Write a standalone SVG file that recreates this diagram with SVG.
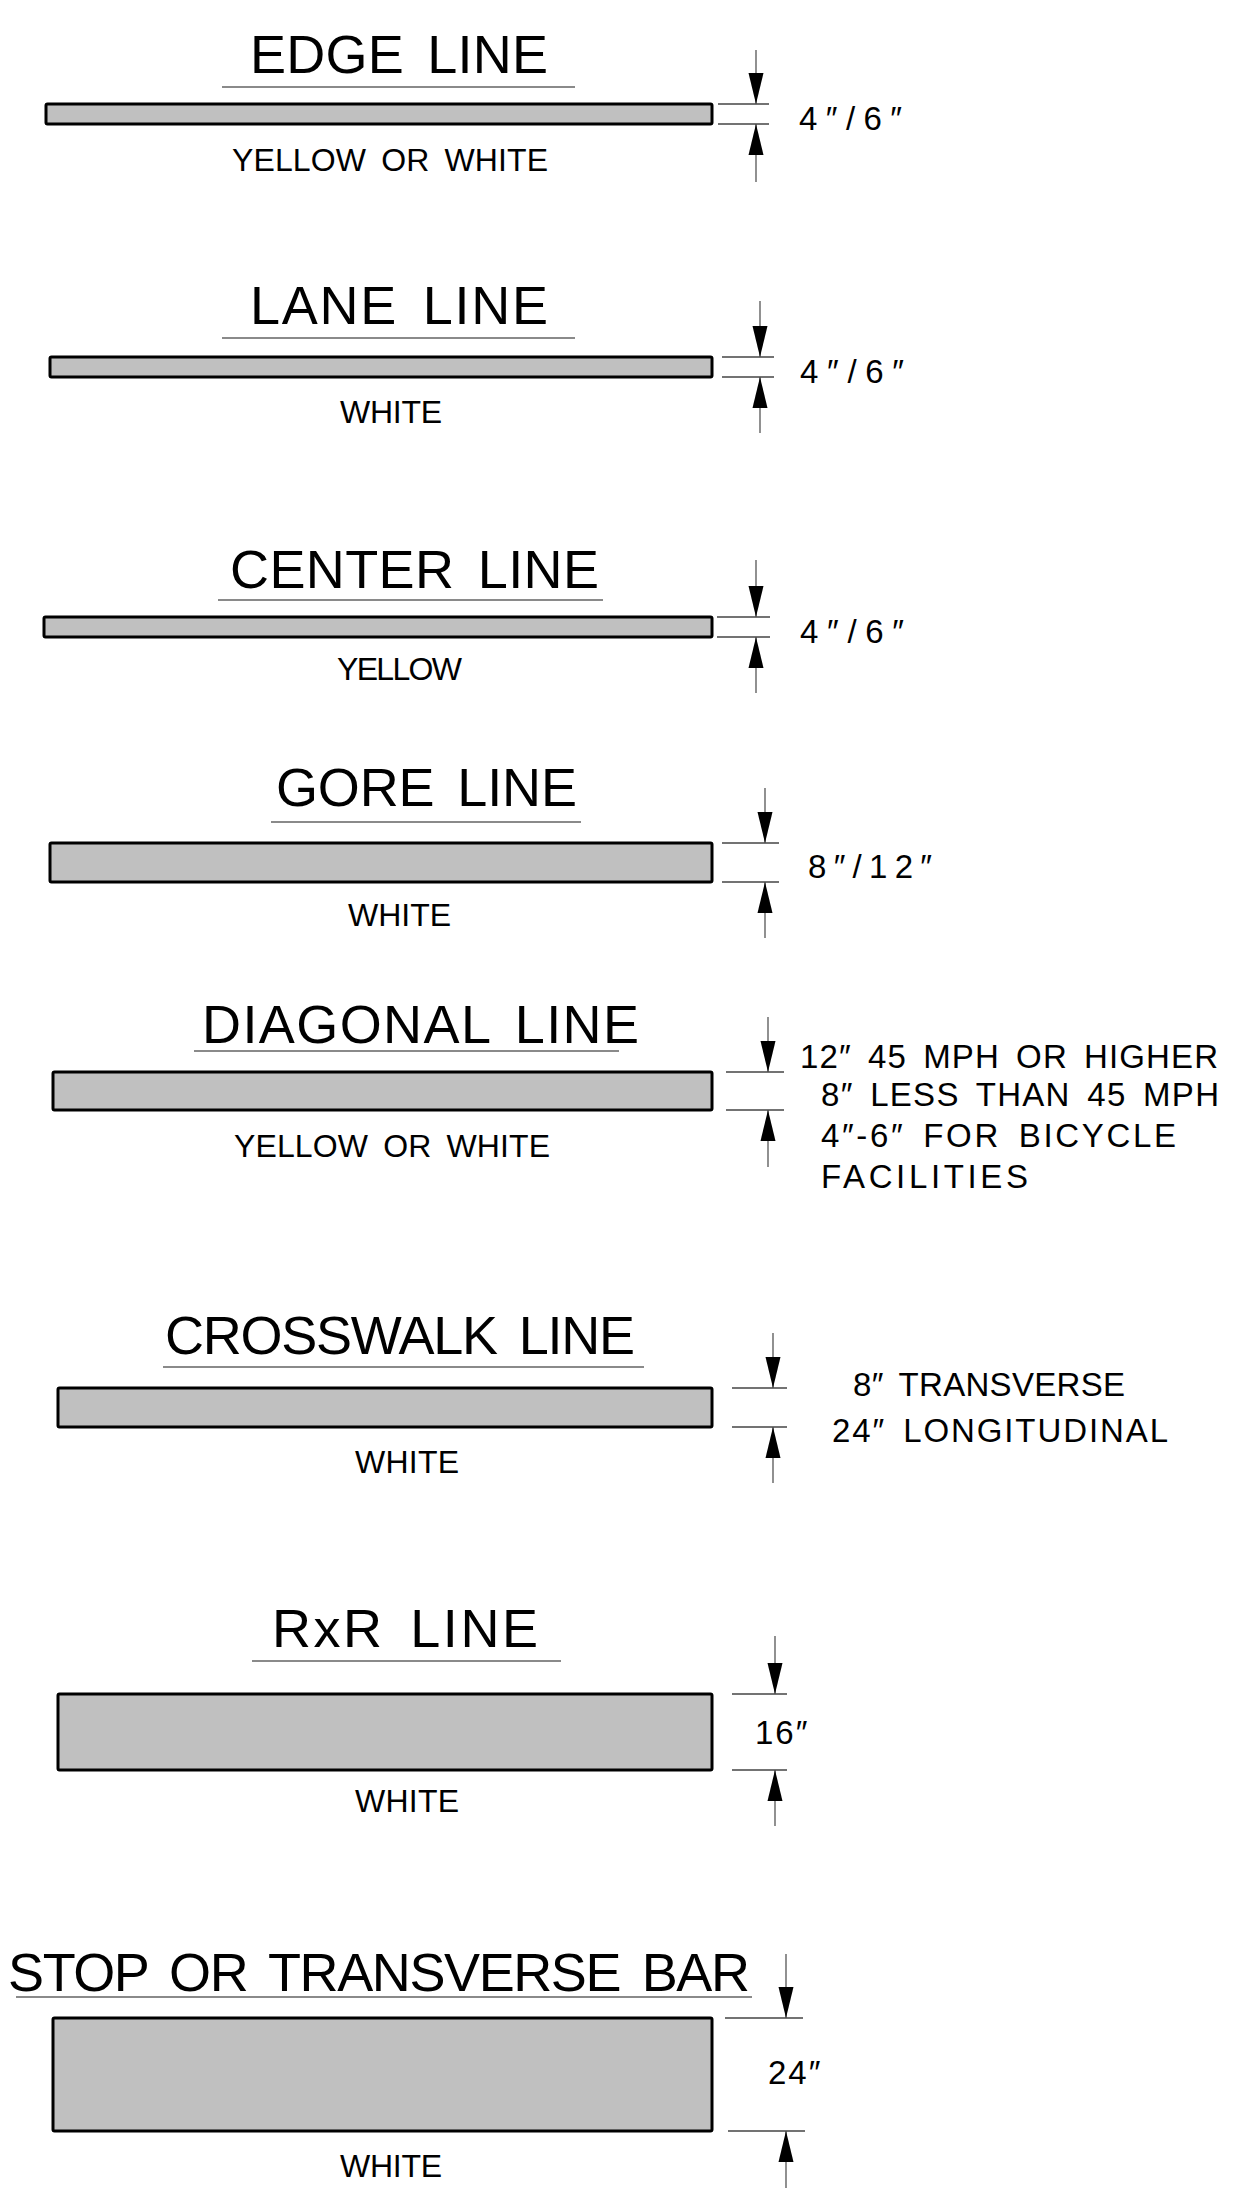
<svg xmlns="http://www.w3.org/2000/svg" xmlns:xlink="http://www.w3.org/1999/xlink" width="1242" height="2197" viewBox="0 0 1242 2197">
<style>
text{font-family:"Liberation Sans",Arial,sans-serif;fill:#000}
.title{font-size:54px;word-spacing:8px}
.sub{font-size:32px;word-spacing:6px}
.dim{font-size:33px;word-spacing:6px}
.bar{fill:#c0c0c0;stroke:#000;stroke-width:3}
.ul{stroke:#8a8a8a;stroke-width:2;fill:none}
.dl{stroke:#555;stroke-width:1.3;fill:none}
.ext{stroke:#444;stroke-width:1.3;fill:none}
.ah{fill:#000}
</style>
<defs>
<path id="aDown" class="ah" d="M0,0 L-7.5,-31 L7.5,-31 Z"/>
<path id="aUp" class="ah" d="M0,0 L-7.5,31 L7.5,31 Z"/>
</defs>
<rect width="1242" height="2197" fill="#fff"/>

<g id="edge-line">
<text class="title" x="250" y="73" textLength="298" lengthAdjust="spacing">EDGE LINE</text>
<line class="ul" x1="222" y1="87" x2="575" y2="87"/>
<rect class="bar" x="46" y="104" width="666" height="20" rx="1.5"/>
<text class="sub" x="232" y="171" textLength="316" lengthAdjust="spacing">YELLOW OR WHITE</text>
<text class="dim" x="799" y="130" textLength="103" lengthAdjust="spacing">4″/6″</text>
</g>

<g id="lane-line">
<text class="title" x="250" y="324" textLength="298" lengthAdjust="spacing">LANE LINE</text>
<line class="ul" x1="222" y1="338" x2="575" y2="338"/>
<rect class="bar" x="50" y="357" width="662" height="20" rx="1.5"/>
<text class="sub" x="340" y="423" textLength="102" lengthAdjust="spacing">WHITE</text>
<text class="dim" x="800" y="383" textLength="104" lengthAdjust="spacing">4″/6″</text>
</g>

<g id="center-line">
<text class="title" x="230" y="588" textLength="369" lengthAdjust="spacing">CENTER LINE</text>
<line class="ul" x1="218" y1="600" x2="603" y2="600"/>
<rect class="bar" x="44" y="617" width="668" height="20" rx="1.5"/>
<text class="sub" x="337" y="680" textLength="125" lengthAdjust="spacing">YELLOW</text>
<text class="dim" x="800" y="643" textLength="104" lengthAdjust="spacing">4″/6″</text>
</g>

<g id="gore-line">
<text class="title" x="276" y="806" textLength="301" lengthAdjust="spacing">GORE LINE</text>
<line class="ul" x1="271" y1="822" x2="581" y2="822"/>
<rect class="bar" x="50" y="843" width="662" height="39" rx="1.5"/>
<text class="sub" x="348" y="926" textLength="103" lengthAdjust="spacing">WHITE</text>
<text class="dim" x="808" y="878" textLength="124" lengthAdjust="spacing">8″/12″</text>
</g>

<g id="diagonal-line">
<text class="title" x="202" y="1043" textLength="437" lengthAdjust="spacing">DIAGONAL LINE</text>
<line class="ul" x1="194" y1="1051" x2="619" y2="1051"/>
<rect class="bar" x="53" y="1072" width="659" height="38" rx="1.5"/>
<text class="sub" x="234" y="1157" textLength="316" lengthAdjust="spacing">YELLOW OR WHITE</text>
<text class="dim" x="800" y="1068" textLength="418" lengthAdjust="spacing">12″ 45 MPH OR HIGHER</text>
<text class="dim" x="821" y="1106" textLength="398" lengthAdjust="spacing">8″ LESS THAN 45 MPH</text>
<text class="dim" x="821" y="1147" textLength="355" lengthAdjust="spacing">4″-6″ FOR BICYCLE</text>
<text class="dim" x="821" y="1188" textLength="207" lengthAdjust="spacing">FACILITIES</text>
</g>

<g id="crosswalk-line">
<text class="title" x="165" y="1354" textLength="470" lengthAdjust="spacing">CROSSWALK LINE</text>
<line class="ul" x1="163" y1="1367" x2="644" y2="1367"/>
<rect class="bar" x="58" y="1388" width="654" height="39" rx="1.5"/>
<text class="sub" x="355" y="1473" textLength="104" lengthAdjust="spacing">WHITE</text>
<text class="dim" x="853" y="1396" textLength="272" lengthAdjust="spacing">8″ TRANSVERSE</text>
<text class="dim" x="832" y="1442" textLength="336" lengthAdjust="spacing">24″ LONGITUDINAL</text>
</g>

<g id="rxr-line">
<text class="title" x="272" y="1647" textLength="266" lengthAdjust="spacing">RxR LINE</text>
<line class="ul" x1="252" y1="1661" x2="561" y2="1661"/>
<rect class="bar" x="58" y="1694" width="654" height="76" rx="1.5"/>
<text class="sub" x="355" y="1812" textLength="104" lengthAdjust="spacing">WHITE</text>
<text class="dim" x="755" y="1744" letter-spacing="2">16″</text>
</g>

<g id="stop-bar">
<text class="title" x="8" y="1991" textLength="742" lengthAdjust="spacing">STOP OR TRANSVERSE BAR</text>
<line class="ul" x1="16" y1="1997" x2="752" y2="1997"/>
<rect class="bar" x="53" y="2018" width="659" height="113" rx="1.5"/>
<text class="sub" x="340" y="2177" textLength="102" lengthAdjust="spacing">WHITE</text>
<text class="dim" x="768" y="2084" letter-spacing="2">24″</text>
</g>

<g id="connectors">
<line class="ext" x1="718" y1="104" x2="769" y2="104"/>
<line class="ext" x1="718" y1="124" x2="769" y2="124"/>
<line class="dl" x1="756" y1="50" x2="756" y2="104"/>
<line class="dl" x1="756" y1="124" x2="756" y2="182"/>
<use xlink:href="#aDown" x="756" y="104"/>
<use xlink:href="#aUp" x="756" y="124"/>

<line class="ext" x1="722" y1="357" x2="774" y2="357"/>
<line class="ext" x1="722" y1="377" x2="774" y2="377"/>
<line class="dl" x1="760" y1="301" x2="760" y2="357"/>
<line class="dl" x1="760" y1="377" x2="760" y2="433"/>
<use xlink:href="#aDown" x="760" y="357"/>
<use xlink:href="#aUp" x="760" y="377"/>

<line class="ext" x1="717" y1="617" x2="770" y2="617"/>
<line class="ext" x1="717" y1="637" x2="770" y2="637"/>
<line class="dl" x1="756" y1="560" x2="756" y2="617"/>
<line class="dl" x1="756" y1="637" x2="756" y2="693"/>
<use xlink:href="#aDown" x="756" y="617"/>
<use xlink:href="#aUp" x="756" y="637"/>

<line class="ext" x1="722" y1="843" x2="779" y2="843"/>
<line class="ext" x1="722" y1="882" x2="779" y2="882"/>
<line class="dl" x1="765" y1="788" x2="765" y2="843"/>
<line class="dl" x1="765" y1="882" x2="765" y2="938"/>
<use xlink:href="#aDown" x="765" y="843"/>
<use xlink:href="#aUp" x="765" y="882"/>

<line class="ext" x1="726" y1="1072" x2="784" y2="1072"/>
<line class="ext" x1="726" y1="1110" x2="784" y2="1110"/>
<line class="dl" x1="768" y1="1017" x2="768" y2="1072"/>
<line class="dl" x1="768" y1="1110" x2="768" y2="1167"/>
<use xlink:href="#aDown" x="768" y="1072"/>
<use xlink:href="#aUp" x="768" y="1110"/>

<line class="ext" x1="732" y1="1388" x2="787" y2="1388"/>
<line class="ext" x1="732" y1="1427" x2="787" y2="1427"/>
<line class="dl" x1="773" y1="1333" x2="773" y2="1388"/>
<line class="dl" x1="773" y1="1427" x2="773" y2="1483"/>
<use xlink:href="#aDown" x="773" y="1388"/>
<use xlink:href="#aUp" x="773" y="1427"/>

<line class="ext" x1="732" y1="1694" x2="787" y2="1694"/>
<line class="ext" x1="732" y1="1770" x2="787" y2="1770"/>
<line class="dl" x1="775" y1="1636" x2="775" y2="1694"/>
<line class="dl" x1="775" y1="1770" x2="775" y2="1826"/>
<use xlink:href="#aDown" x="775" y="1694"/>
<use xlink:href="#aUp" x="775" y="1770"/>

<line class="ext" x1="725" y1="2018" x2="803" y2="2018"/>
<line class="ext" x1="728" y1="2131" x2="805" y2="2131"/>
<line class="dl" x1="786" y1="1954" x2="786" y2="2018"/>
<line class="dl" x1="786" y1="2131" x2="786" y2="2188"/>
<use xlink:href="#aDown" x="786" y="2018"/>
<use xlink:href="#aUp" x="786" y="2131"/>
</g>
</svg>
